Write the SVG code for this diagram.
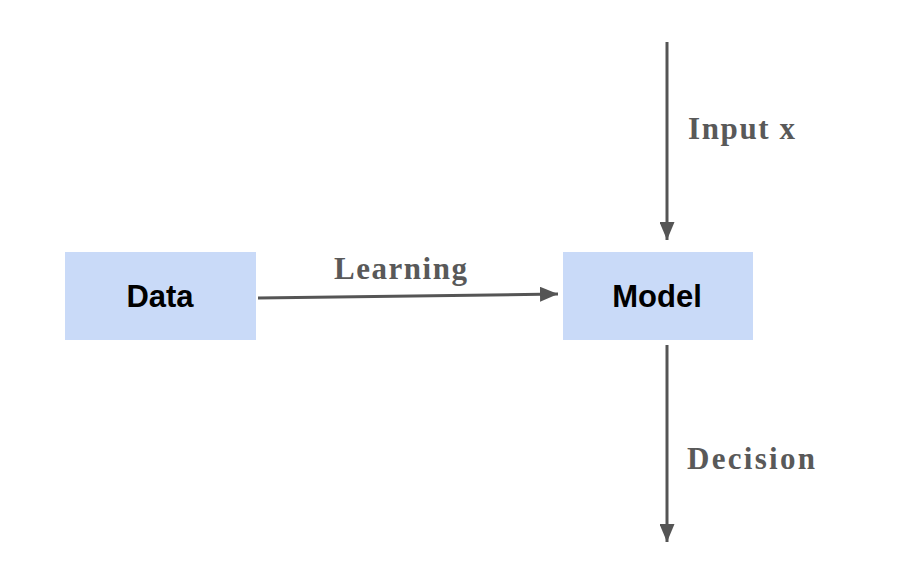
<svg xmlns="http://www.w3.org/2000/svg" width="912" height="572" viewBox="0 0 912 572">
<defs>
<style>
.box{fill:#c9daf8}
.nl{font-family:"Liberation Sans",Arial,sans-serif;font-weight:bold;font-size:31px;fill:#000;text-anchor:middle}
.el{font-family:"Liberation Serif",serif;font-weight:bold;font-size:31px;fill:#595959}
.c{stroke:#555;stroke-width:3;fill:none}
</style>
<marker id="ah" viewBox="0 0 12 10" refX="12" refY="5" markerWidth="6" markerHeight="5" orient="auto" markerUnits="strokeWidth">
<path d="M0,0 L12,5 L0,10 Z" fill="#555"/>
</marker>
</defs>
<rect width="912" height="572" fill="#fff"/>
<g id="data"><rect class="box" x="65" y="252" width="191" height="88"/><text class="nl" x="160" y="307">Data</text></g>
<g id="model"><rect class="box" x="563" y="252" width="190" height="88"/><text class="nl" x="657" y="307">Model</text></g>
<g id="connectors">
<line class="c" x1="258" y1="298" x2="558" y2="294" marker-end="url(#ah)" stroke="#444"/>
<line class="c" x1="667" y1="42" x2="667" y2="240" marker-end="url(#ah)"/>
<line class="c" x1="667" y1="345" x2="667" y2="542" marker-end="url(#ah)"/>
<text class="el" x="334" y="279" textLength="133" lengthAdjust="spacing">Learning</text>
<text class="el" x="688" y="139" textLength="107" lengthAdjust="spacing">Input x</text>
<text class="el" x="687" y="469" textLength="128" lengthAdjust="spacing">Decision</text>
</g>
</svg>
